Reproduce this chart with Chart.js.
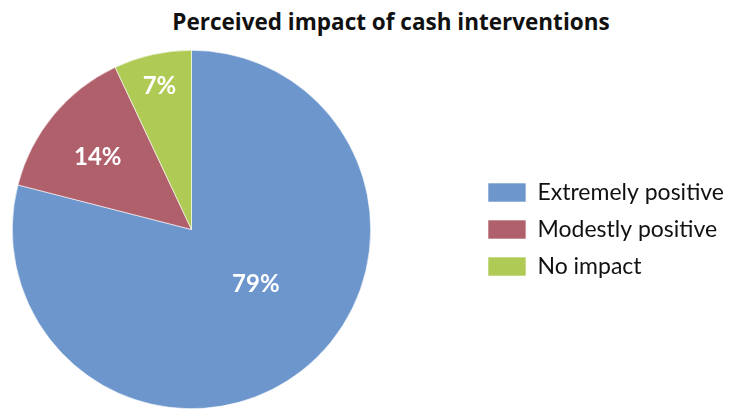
<!DOCTYPE html>
<html>
<head>
  <meta charset="UTF-8">
  <title>Perceived impact of cash interventions</title>
  <script src="https://cdn.jsdelivr.net/npm/chart.js"></script>
  <style>
    html, body {
      margin: 0;
      padding: 0;
      background: #fff;
      overflow: hidden;
    }
    #wrap {
      position: relative;
      width: 734px;
      height: 409px;
      overflow: hidden;
    }
    #title {
      position: absolute;
      left: 91px;
      width: 600px;
      top: 8px;
      text-align: center;
      font-family: 'Open Sans', sans-serif;
      font-weight: bold;
      font-size: 22.5px;
      line-height: 28px;
      color: #111;
    }
    canvas {
      position: absolute;
      left: -91px;
      top: 0;
    }
  </style>
</head>
<body>
  <div id="wrap">
    <div id="title">Perceived impact of cash interventions</div>
    <canvas id="pieChart" width="825" height="409"></canvas>
  </div>

  <script>
    const categories = ['Extremely positive', 'Modestly positive', 'No impact'];
    const shares = [79, 14, 7];
    const colors = ['#6c96cc', '#b0606b', '#afcb55'];

    // where each percent label sits: fraction of radius, turn from mid-angle (deg)
    const labelRadius = [0.47, 0.66, 0.82];
    const labelTurn = [-12, -2, 0];

    const legendFont = { family: 'Lato', size: 23 };
    const legendPad = 14;
    const legendBox = 38;

    // canvas is shifted 91px left, so the legend's left edge sits at 477 + 91 in canvas px
    const canvasW = 825;
    const legendLeft = 477 + 91;
    const mctx = document.createElement('canvas').getContext('2d');
    mctx.font = legendFont.size + 'px ' + legendFont.family;
    const textW = Math.max(...categories.map(c => mctx.measureText(c).width));
    const legendW = legendPad + legendBox + legendFont.size / 2 + textW + 10;

    const sliceLabels = {
      id: 'sliceLabels',
      afterDatasetsDraw(chart) {
        const ctx = chart.ctx;
        const meta = chart.getDatasetMeta(0);
        ctx.save();
        ctx.font = 'bold 24px Lato';
        ctx.fillStyle = '#fff';
        ctx.textAlign = 'center';
        ctx.textBaseline = 'middle';
        meta.data.forEach((arc, i) => {
          const p = arc.getProps(['x', 'y', 'startAngle', 'endAngle', 'outerRadius'], true);
          const mid = (p.startAngle + p.endAngle) / 2 + labelTurn[i] * Math.PI / 180;
          const r = p.outerRadius * labelRadius[i];
          ctx.fillText(shares[i] + '%', p.x + Math.cos(mid) * r, p.y + Math.sin(mid) * r);
        });
        ctx.restore();
      }
    };

    new Chart(document.getElementById('pieChart'), {
      type: 'pie',
      data: {
        labels: categories,
        datasets: [{
          data: shares,
          backgroundColor: colors,
          borderColor: '#fff',
          borderWidth: 0.6
        }]
      },
      options: {
        responsive: false,
        animation: false,
        devicePixelRatio: 1,
        layout: {
          padding: { top: 50, bottom: 0, left: 0, right: Math.max(0, canvasW - legendLeft - legendW) }
        },
        plugins: {
          title: { display: false },
          tooltip: { enabled: false },
          legend: {
            position: 'right',
            labels: {
              boxWidth: legendBox,
              boxHeight: 19,
              padding: legendPad,
              color: '#111',
              font: legendFont
            }
          }
        }
      },
      plugins: [sliceLabels]
    });
  </script>
</body>
</html>
